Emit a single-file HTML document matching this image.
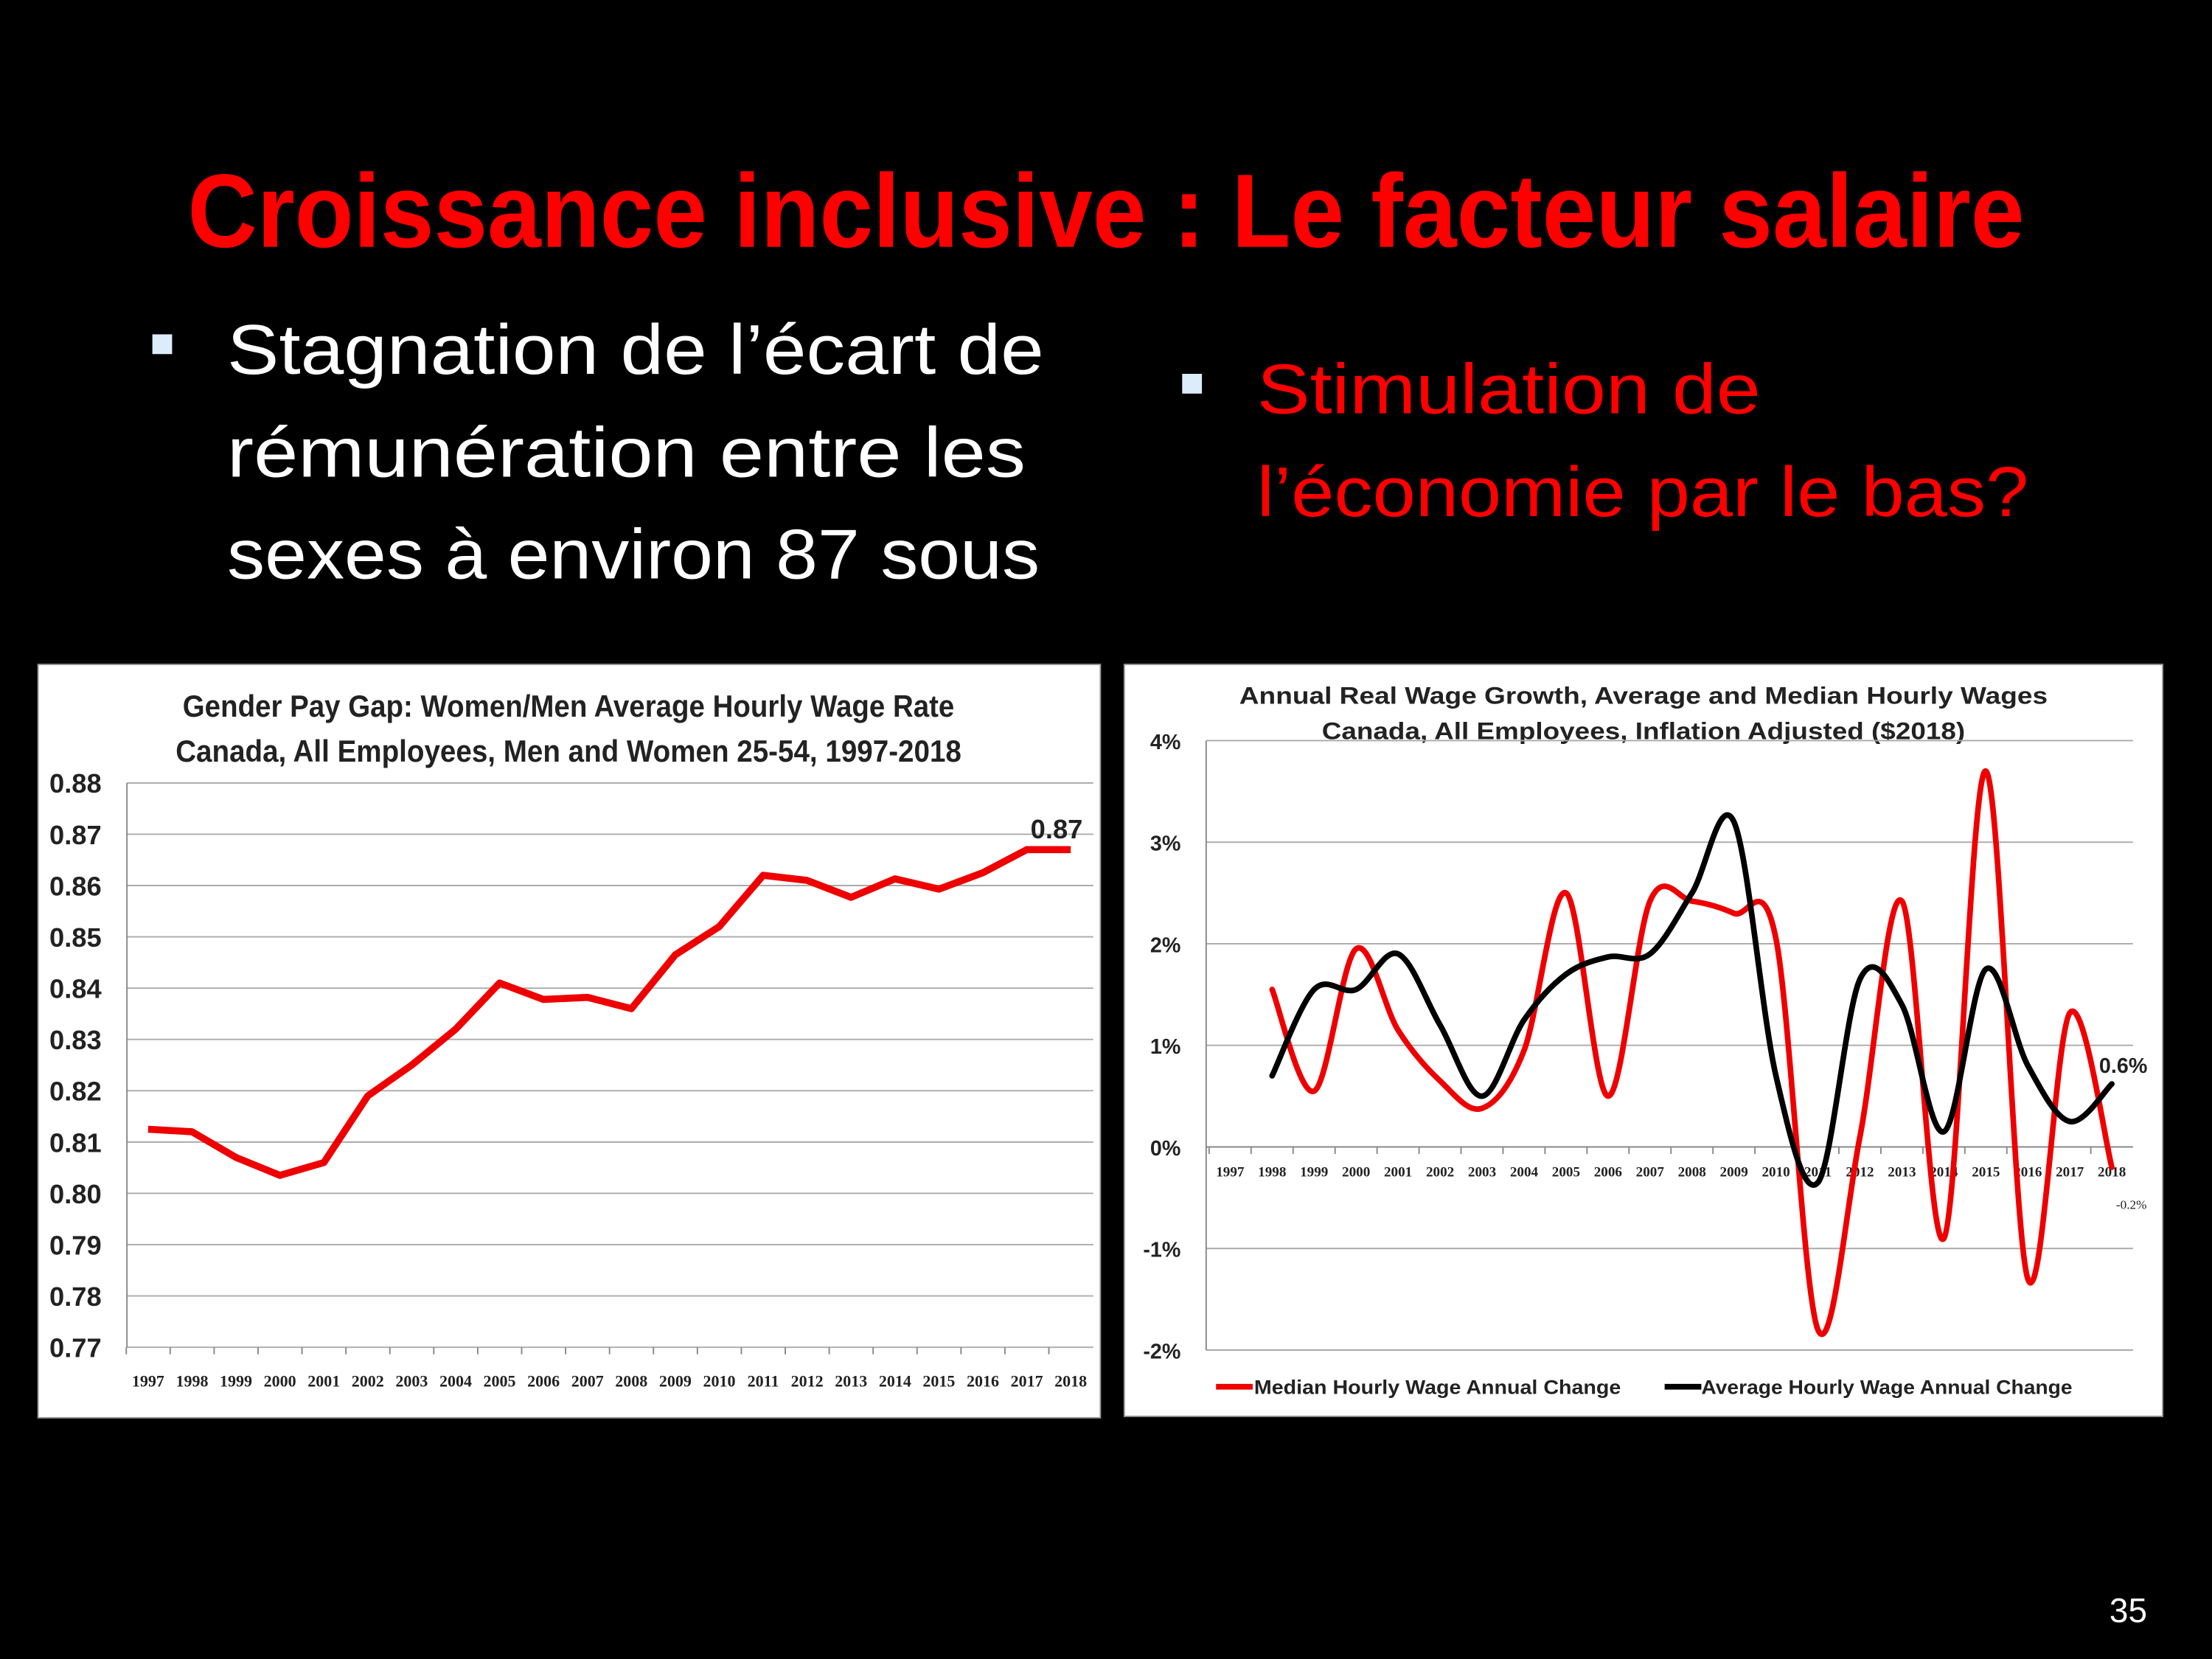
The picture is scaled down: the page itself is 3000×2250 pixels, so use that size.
<!DOCTYPE html>
<html><head><meta charset="utf-8"><style>
html,body{margin:0;padding:0;background:#000;}
svg{display:block;}
</style></head><body>
<svg id="s" xmlns="http://www.w3.org/2000/svg" width="3000" height="2250" viewBox="0 0 1568 1176" font-family="Liberation Sans, sans-serif">
<rect width="1568" height="1176" fill="#000"/>
<text x="784" y="175" text-anchor="middle" font-size="74" font-weight="bold" fill="#ff0000" textLength="1302" lengthAdjust="spacingAndGlyphs">Croissance inclusive : Le facteur salaire</text>
<rect x="108" y="237" width="14" height="14" fill="#dcecfa"/>
<g fill="#fff" font-size="50">
<text x="161" y="265" textLength="579" lengthAdjust="spacingAndGlyphs">Stagnation de l’écart de</text>
<text x="161" y="338" textLength="566" lengthAdjust="spacingAndGlyphs">rémunération entre les</text>
<text x="161" y="410" textLength="576" lengthAdjust="spacingAndGlyphs">sexes à environ 87 sous</text>
</g>
<rect x="838" y="265" width="14" height="14" fill="#dcecfa"/>
<g fill="#ff0000" font-size="50">
<text x="891" y="293" textLength="357" lengthAdjust="spacingAndGlyphs">Stimulation de</text>
<text x="891" y="366" textLength="547" lengthAdjust="spacingAndGlyphs">l’économie par le bas?</text>
</g>
<text x="1522" y="1150" text-anchor="end" fill="#fff" font-size="24">35</text>

<g id="left">
<rect x="27" y="471" width="753" height="534" fill="#fff" stroke="#999"/>
<text x="403" y="508" text-anchor="middle" font-size="22" font-weight="bold" fill="#222" textLength="547" lengthAdjust="spacingAndGlyphs">Gender Pay Gap: Women/Men Average Hourly Wage Rate</text>
<text x="403" y="540" text-anchor="middle" font-size="22" font-weight="bold" fill="#222" textLength="557" lengthAdjust="spacingAndGlyphs">Canada, All Employees, Men and Women 25-54, 1997-2018</text>
</g>
<g id="right">
<rect x="797" y="471" width="736" height="533" fill="#fff" stroke="#999"/>
<text x="1165" y="499" text-anchor="middle" font-size="17" font-weight="bold" fill="#222" textLength="573" lengthAdjust="spacingAndGlyphs">Annual Real Wage Growth, Average and Median Hourly Wages</text>
<text x="1165" y="524" text-anchor="middle" font-size="17" font-weight="bold" fill="#222" textLength="456" lengthAdjust="spacingAndGlyphs">Canada, All Employees, Inflation Adjusted ($2018)</text>
<line x1="862" y1="983" x2="888" y2="983" stroke="#e00" stroke-width="4"/>
<text x="889" y="988" font-size="14" font-weight="bold" fill="#222" textLength="260" lengthAdjust="spacingAndGlyphs">Median Hourly Wage Annual Change</text>
<line x1="1180" y1="983" x2="1206" y2="983" stroke="#000" stroke-width="4"/>
<text x="1206" y="988" font-size="14" font-weight="bold" fill="#222" textLength="263" lengthAdjust="spacingAndGlyphs">Average Hourly Wage Annual Change</text>
</g>
</svg>
<script>
// Left chart data
const years = ["1997","1998","1999","2000","2001","2002","2003","2004","2005","2006","2007","2008","2009","2010","2011","2012","2013","2014","2015","2016","2017","2018"];
const gapRatio = [0.8125,0.812,0.807,0.8035,0.806,0.819,0.825,0.832,0.841,0.8378,0.8382,0.836,0.8465,0.852,0.862,0.861,0.8577,0.8613,0.8593,0.8625,0.867,0.867];
const leftTicks = [0.77,0.78,0.79,0.80,0.81,0.82,0.83,0.84,0.85,0.86,0.87,0.88];
// Right chart data
const years2 = ["1997","1998","1999","2000","2001","2002","2003","2004","2005","2006","2007","2008","2009","2010","2011","2012","2013","2014","2015","2016","2017","2018"];
const medianChange = [null,1.55,0.55,1.95,1.15,0.65,0.38,0.95,2.5,0.5,2.42,2.42,2.3,2.05,-1.8,0.1,2.42,-0.9,3.7,-1.3,1.32,-0.2];
const averageChange = [null,0.7,1.55,1.55,1.9,1.2,0.5,1.25,1.7,1.87,1.9,2.5,3.2,0.7,-0.35,1.65,1.4,0.15,1.75,0.8,0.25,0.62];
const rightTicks = [-2,-1,0,1,2,3,4];

const NS="http://www.w3.org/2000/svg";
function mk(tag,attrs,parent,txt){const e=document.createElementNS(NS,tag);for(const k in attrs)e.setAttribute(k,attrs[k]);if(txt!=null)e.textContent=txt;parent.appendChild(e);return e;}
function smooth(pts){let d="M"+pts[0][0]+","+pts[0][1];for(let i=0;i<pts.length-1;i++){const p0=pts[i-1]||pts[i],p1=pts[i],p2=pts[i+1],p3=pts[i+2]||p2;const c1=[p1[0]+(p2[0]-p0[0])/6,p1[1]+(p2[1]-p0[1])/6],c2=[p2[0]-(p3[0]-p1[0])/6,p2[1]-(p3[1]-p1[1])/6];d+=" C"+c1+" "+c2+" "+p2;}return d;}

// left
const L=document.getElementById("left");
const lx=i=>105+i*(759-105)/(years.length-1);
const ly=v=>955-(v-0.77)/(0.88-0.77)*400;
leftTicks.forEach(t=>{
 const g=mk("line",{x1:90,x2:775,y1:ly(t),y2:ly(t),stroke:"#aaa","stroke-width":1},L);
 
 
 const tx=mk("text",{x:72,y:ly(t)+7,"text-anchor":"end","font-size":19,"font-weight":"bold",fill:"#222"},L,t.toFixed(2));
 
 
});
const la=mk("line",{x1:90,x2:90,y1:555,y2:955,stroke:"#888"},L);


years.forEach((y,i)=>{
 const t=mk("text",{x:lx(i),y:983,"text-anchor":"middle","font-size":11.5,"font-weight":"bold","font-family":"Liberation Serif, serif",fill:"#222"},L,y);
 
 
 const tk=mk("line",{x1:lx(i)-15.5,x2:lx(i)-15.5,y1:955,y2:960,stroke:"#888"},L);
 
 
});
const lp=mk("polyline",{points:gapRatio.map((v,i)=>lx(i)+","+ly(v)).join(" "),fill:"none",stroke:"#e00","stroke-width":5,"stroke-linejoin":"round"},L);


const ll=mk("text",{x:lx(years.length-1)-10,y:ly(gapRatio[gapRatio.length-1])-8,"text-anchor":"middle","font-size":19,"font-weight":"bold",fill:"#222"},L,gapRatio[gapRatio.length-1].toFixed(2));



// right
const R=document.getElementById("right");
const rx=i=>872+i*(1497-872)/(years2.length-1);
const ry=v=>813-v*72;
rightTicks.forEach(t=>{
 const g=mk("line",{x1:855,x2:1512,y1:ry(t),y2:ry(t),stroke:t===0?"#888":"#aaa","stroke-width":1},R);
 
 
 const tx=mk("text",{x:837,y:ry(t)+6,"text-anchor":"end","font-size":15,"font-weight":"bold",fill:"#222"},R,t+"%");
 
 
});
const ra=mk("line",{x1:855,x2:855,y1:525,y2:957,stroke:"#888"},R);


years2.forEach((y,i)=>{
 const t=mk("text",{x:rx(i),y:834,"text-anchor":"middle","font-size":10,"font-weight":"bold","font-family":"Liberation Serif, serif",fill:"#222"},R,y);
 
 
 const tk=mk("line",{x1:rx(i)-14.9,x2:rx(i)-14.9,y1:813,y2:818,stroke:"#888"},R);
 
 
});
function series(arr,color,name){
 const pts=[];arr.forEach((v,i)=>{if(v!=null)pts.push([rx(i),ry(v)]);});
 const p=mk("path",{d:smooth(pts),fill:"none",stroke:color,"stroke-width":4,"stroke-linecap":"round"},R);
 
 
}
series(medianChange,"#e00","median-change-line");
series(averageChange,"#000","average-change-line");
const a1=mk("text",{x:1488,y:ry(averageChange[averageChange.length-1])-8,"font-size":15,"font-weight":"bold",fill:"#222"},R,averageChange[averageChange.length-1].toFixed(1)+"%");


const a2=mk("text",{x:1500,y:857,"font-size":9,"font-family":"Liberation Serif, serif",fill:"#222"},R,medianChange[medianChange.length-1].toFixed(1)+"%");


</script>
</body></html>
